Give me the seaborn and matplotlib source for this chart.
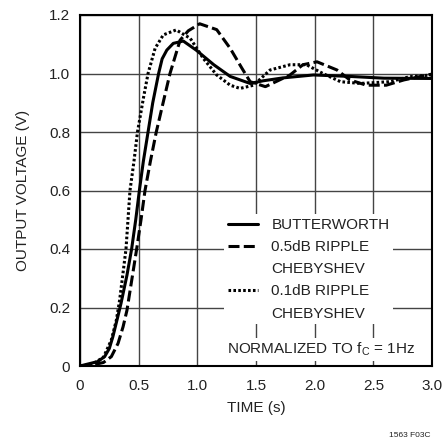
import matplotlib
matplotlib.use("Agg")
import matplotlib.pyplot as plt
from matplotlib.lines import Line2D
from matplotlib import font_manager
import seaborn as sns
import pandas as pd

# ---- data ----
butter_x = [0, 0.07, 0.15, 0.21, 0.25, 0.28, 0.32, 0.35, 0.40, 0.44, 0.475, 0.506, 0.54, 0.58,
            0.62, 0.65, 0.67, 0.70, 0.74, 0.795, 0.88, 0.99, 1.14, 1.28, 1.45, 1.56, 1.73, 1.99, 2.3, 2.59, 3.0]
butter_y = [0, 0.007, 0.015, 0.032, 0.06, 0.10, 0.165, 0.215, 0.31, 0.40, 0.50, 0.60, 0.70, 0.80,
            0.90, 0.96, 1.0, 1.05, 1.08, 1.103, 1.111, 1.08, 1.03, 0.99, 0.966, 0.975, 0.985, 0.995, 0.99, 0.984, 0.983]

cheb05_x = [0, 0.1, 0.2, 0.267, 0.324, 0.367, 0.40, 0.483, 0.52, 0.554, 0.60, 0.65, 0.72, 0.767,
            0.853, 0.923, 1.02, 1.165, 1.28, 1.38, 1.45, 1.58, 1.79, 1.9, 2.02, 2.19, 2.3, 2.44,
            2.61, 2.76, 3.0]
cheb05_y = [0, 0.003, 0.012, 0.032, 0.077, 0.134, 0.19, 0.40, 0.50, 0.60, 0.70, 0.80, 0.92, 1.0,
            1.114, 1.146, 1.17, 1.15, 1.086, 1.018, 0.972, 0.955, 0.995, 1.03, 1.04, 1.012, 0.978, 0.96,
            0.96, 0.978, 0.998]

cheb01_x = [0, 0.1, 0.2, 0.267, 0.31, 0.338, 0.392, 0.426, 0.46, 0.49, 0.54, 0.58, 0.64, 0.71,
            0.82, 0.94, 1.05, 1.165, 1.28, 1.364, 1.48, 1.62, 1.79, 1.93, 2.07, 2.22, 2.39, 2.64,
            2.81, 3.0]
cheb01_y = [0, 0.005, 0.03, 0.089, 0.157, 0.226, 0.40, 0.60, 0.70, 0.80, 0.915, 1.0, 1.086, 1.132,
            1.149, 1.12, 1.052, 0.995, 0.96, 0.949, 0.96, 1.012, 1.03, 1.03, 1.0, 0.972, 0.966, 0.972,
            0.989, 0.995]

x_ticks = [0, 0.5, 1.0, 1.5, 2.0, 2.5, 3.0]
x_tick_labels = ["0", "0.5", "1.0", "1.5", "2.0", "2.5", "3.0"]
y_ticks = [0, 0.2, 0.4, 0.6, 0.8, 1.0, 1.2]
y_tick_labels = ["0", "0.2", "0.4", "0.6", "0.8", "1.0", "1.2"]

series_labels = ["BUTTERWORTH", "0.5dB RIPPLE", "CHEBYSHEV", "0.1dB RIPPLE", "CHEBYSHEV"]

# ---- styling ----
sns.set_style("white")
names = {f.name for f in font_manager.fontManager.ttflist}
narrow = "Liberation Sans Narrow" in names
plt.rcParams["font.family"] = (["Liberation Sans Narrow"] if narrow else []) + ["Liberation Sans", "DejaVu Sans"]
FS = 13 if narrow else 11
plt.rcParams["font.size"] = FS

fig = plt.figure(figsize=(4.45, 4.46), dpi=100)
ax = fig.add_axes([80 / 445, 80 / 446, 352 / 445, 351 / 446])

df_b = pd.DataFrame({"t": butter_x, "v": butter_y})
df_5 = pd.DataFrame({"t": cheb05_x, "v": cheb05_y})
df_1 = pd.DataFrame({"t": cheb01_x, "v": cheb01_y})

lw = 2.2
DASH = (3.6, 1.4)
DOT = (0.85, 0.75)
sns.lineplot(data=df_b, x="t", y="v", ax=ax, color="black", linewidth=lw, zorder=3)
sns.lineplot(data=df_5, x="t", y="v", ax=ax, color="black", linewidth=lw, zorder=3)
ax.get_lines()[-1].set_dashes(DASH)
sns.lineplot(data=df_1, x="t", y="v", ax=ax, color="black", linewidth=lw, zorder=3)
ax.get_lines()[-1].set_dashes(DOT)

ax.set_xlim(0, 3.0)
ax.set_ylim(0, 1.2)
ax.set_xticks(x_ticks)
ax.set_xticklabels(x_tick_labels)
ax.set_yticks(y_ticks)
ax.set_yticklabels(y_tick_labels)
ax.tick_params(axis="both", length=0, labelsize=FS, colors="#222222")
ax.tick_params(axis="y", pad=7)
ax.tick_params(axis="x", pad=9)
ax.grid(True, color="#444444", linewidth=1.0)
ax.set_axisbelow(True)
for s in ax.spines.values():
    s.set_color("black")
    s.set_linewidth(1.5)

ax.set_xlabel("TIME (s)", fontsize=FS, labelpad=6, color="#222222")
ax.set_ylabel("OUTPUT VOLTAGE (V)", fontsize=FS, labelpad=14, color="#222222")

blank = Line2D([], [], linestyle="none")
h_b = Line2D([], [], color="black", linewidth=lw)
h_5 = Line2D([], [], color="black", linewidth=lw, dashes=DASH)
h_1 = Line2D([], [], color="black", linewidth=lw, dashes=DOT)
leg = ax.legend(handles=[h_b, h_5, blank, h_1, blank], labels=series_labels,
                loc="upper left", bbox_to_anchor=(0.409, 0.432), borderaxespad=0,
                borderpad=0.25, handlelength=2.0, handletextpad=0.85, labelspacing=0.53,
                frameon=True, fancybox=False, facecolor="white", edgecolor="none",
                framealpha=1, fontsize=FS)
for t in leg.get_texts():
    t.set_color("#222222")

ax.text(0.418, 0.047, "NORMALIZED TO f$_\\mathregular{C}$ = 1Hz", transform=ax.transAxes,
        ha="left", va="center", fontsize=FS, color="#222222", zorder=6,
        bbox=dict(facecolor="white", edgecolor="none", pad=2))

fig.text(0.967, 0.015, "1563 F03C", ha="right", va="bottom", fontsize=6, color="#222222")

fig.savefig("out.png", dpi=100)
